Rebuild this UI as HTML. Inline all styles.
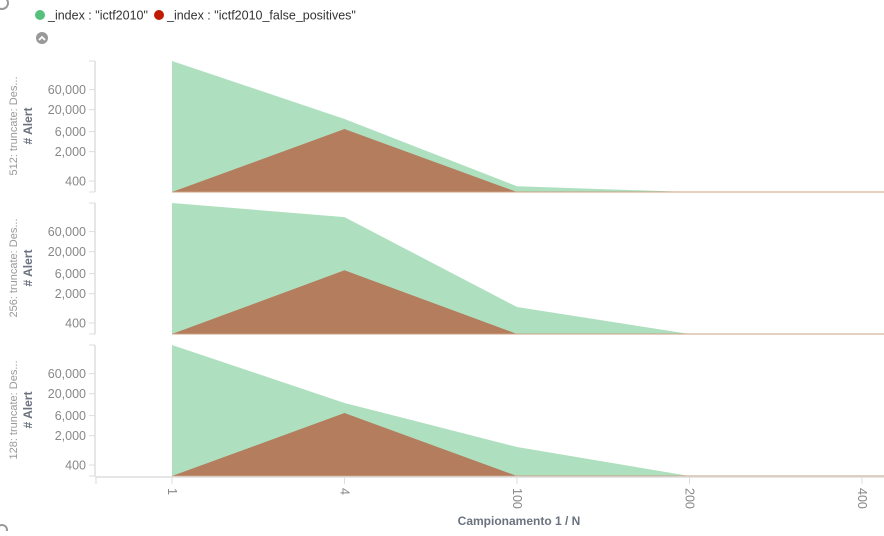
<!DOCTYPE html>
<html><head><meta charset="utf-8"><style>
body{margin:0;background:#fff;font-family:"Liberation Sans",sans-serif;}
svg text{font-family:"Liberation Sans",sans-serif;}
</style></head><body>
<svg id="c" width="884" height="531" xmlns="http://www.w3.org/2000/svg">
<circle cx="2" cy="3" r="6" fill="none" stroke="#999" stroke-width="2"/>
<g>
<g><circle cx="40" cy="15" r="5" fill="#57c17b"/><text x="48" y="19.5" font-size="12.5" fill="#333">_index : "ictf2010"</text></g>
<g><circle cx="159" cy="15" r="5" fill="#bf1b00"/><text x="167" y="19.5" font-size="12.5" fill="#333">_index : "ictf2010_false_positives"</text></g>
</g>
<g><circle cx="42" cy="38" r="6" fill="#999"/><path d="M39 40 L42 37 L45 40" stroke="#fff" stroke-width="1.8" fill="none"/></g>
<g id="panels"></g>
<g id="xaxis"></g>
<text x="519" y="525" text-anchor="middle" font-size="12" font-weight="bold" fill="#6b7280">Campionamento 1 / N</text>
<circle cx="2" cy="530" r="5" fill="none" stroke="#999" stroke-width="2"/>
</svg>
<script>
const categories=["1","4","100","200","400"];
const panelLabels=["512: truncate: Des...","256: truncate: Des...","128: truncate: Des..."];
const greenSeries=[[288000,12000,300,0,0],[288000,133000,960,0,0],[288000,12000,1070,0,0]];
const redSeries=[[0,6900,0,0,0],[0,7200,0,0,0],[0,6900,0,0,0]];
const yTicks=[60000,20000,6000,2000,400];
const yTickLabels=["60,000","20,000","6,000","2,000","400"];
const NS="http://www.w3.org/2000/svg";
function mk(t,a,p){const e=document.createElementNS(NS,t);for(const k in a)e.setAttribute(k,a[k]);p.appendChild(e);return e;}
const x0=172,dx=172.5;
function xs(i){return x0+i*dx;}
const logMin=2.34,ppd=42;
function ys(v,base){if(v<=0)return base;const l=Math.log10(v);return Math.max(base-131,base-Math.max(0,(l-logMin)*ppd));}
const panels=document.getElementById('panels');
[192,334,476].forEach((base,p)=>{
 const g=mk('g',{},panels);
 
 
 const ax=mk('line',{x1:95,y1:base-131,x2:95,y2:base,stroke:'#ddd','stroke-width':1.5},g);
 
 mk('line',{x1:89,y1:base-131,x2:95,y2:base-131,stroke:'#ddd'},g);
 mk('line',{x1:89,y1:base,x2:95,y2:base,stroke:'#ddd'},g);
 yTicks.forEach((v,i)=>{const y=ys(v,base);mk('line',{x1:89,y1:y,x2:95,y2:y,stroke:'#ddd'},g);
  const t=mk('text',{x:86,y:y+4.5,'text-anchor':'end','font-size':12.5,fill:'#888'},g);t.textContent=yTickLabels[i];
  });
 const cy=base-66;
 const l1=mk('text',{x:17,y:cy,'text-anchor':'middle','font-size':11,fill:'#999',transform:`rotate(-90 17 ${cy})`},g);l1.textContent=panelLabels[p];
 
 const l2=mk('text',{x:32,y:cy,'text-anchor':'middle','font-size':12,'font-weight':'bold',fill:'#6b7280',transform:`rotate(-90 32 ${cy})`},g);l2.textContent='# Alert';
 
 function area(vals,fill,name){let d=`M${xs(0)} ${base}`;vals.forEach((v,i)=>d+=` L${xs(i)} ${ys(v,base)}`);d+=` L${xs(vals.length-1)} ${base} Z`;
  const a=mk('path',{d:d,fill:fill},g);}
 area(greenSeries[p],'#aee0bf','area-ictf2010');
 area(redSeries[p],'#b37d5e','area-false-positives');
 mk('line',{x1:xs(0),y1:base,x2:884,y2:base,stroke:'#c8a080','stroke-width':1},g);
});
const xa=document.getElementById('xaxis');
mk('line',{x1:95,y1:477,x2:884,y2:477,stroke:'#ddd','stroke-width':1.5},xa);
mk('line',{x1:96,y1:477,x2:96,y2:484,stroke:'#ddd'},xa);
categories.forEach((c,i)=>{const x=xs(i);mk('line',{x1:x,y1:477,x2:x,y2:484,stroke:'#ddd'},xa);
 const t=mk('text',{x:x+4,y:488,'text-anchor':'start','font-size':12.5,fill:'#888',transform:`rotate(90 ${x+4} 488)`},xa);
 t.setAttribute('transform',`rotate(90 ${x} 488)`);t.setAttribute('x',x);t.setAttribute('y',492);t.setAttribute('dy','0');
 t.textContent=c;});
</script>
</body></html>
